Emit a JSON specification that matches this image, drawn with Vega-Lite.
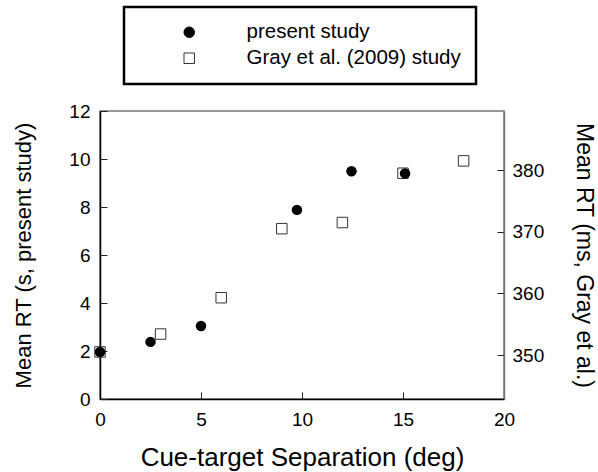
{
  "$schema": "https://vega.github.io/schema/vega-lite/v6.json",
  "width": 404,
  "height": 288,
  "autosize": {"type": "none"},
  "padding": {"left": 100, "top": 111, "right": 94, "bottom": 73},
  "background": "white",
  "config": {
    "font": "Liberation Sans",
    "view": {"stroke": "#777", "strokeWidth": 1.5},
    "axis": {
      "grid": false,
      "labelFlush": false,
      "labelFont": "Liberation Sans",
      "titleFont": "Liberation Sans",
      "labelColor": "black",
      "titleColor": "black",
      "labelFontSize": 19,
      "titleFontWeight": "normal",
      "tickSize": -7,
      "tickColor": "#222",
      "domainColor": "black",
      "domainWidth": 1.5
    },
    "legend": {
      "orient": "none",
      "strokeWidth": 2.5,
      "padding": 15,
      "symbolOffset": 40,
      "labelFontSize": 20.5,
      "labelFont": "Liberation Sans",
      "labelColor": "black",
      "labelOffset": 47,
      "labelLimit": 400,
      "rowPadding": 5,
      "symbolSize": 110,
      "symbolStrokeWidth": 1
    }
  },
  "data": {
    "values": [
      {"series": "Gray et al. (2009) study", "sep": 0, "rt": 350.5},
      {"series": "Gray et al. (2009) study", "sep": 3, "rt": 353.4},
      {"series": "Gray et al. (2009) study", "sep": 6, "rt": 359.3},
      {"series": "Gray et al. (2009) study", "sep": 9, "rt": 370.5},
      {"series": "Gray et al. (2009) study", "sep": 12, "rt": 371.5},
      {"series": "Gray et al. (2009) study", "sep": 15, "rt": 379.5},
      {"series": "Gray et al. (2009) study", "sep": 18, "rt": 381.5},
      {"series": "present study", "sep": 0, "rt": 1.96},
      {"series": "present study", "sep": 2.5, "rt": 2.38},
      {"series": "present study", "sep": 5, "rt": 3.04},
      {"series": "present study", "sep": 9.75, "rt": 7.88},
      {"series": "present study", "sep": 12.45, "rt": 9.49},
      {"series": "present study", "sep": 15.1, "rt": 9.4}
    ]
  },
  "encoding": {
    "x": {
      "field": "sep",
      "type": "quantitative",
      "scale": {"domain": [0, 20], "nice": false},
      "axis": {
        "title": "Cue-target Separation (deg)",
        "titleFontSize": 26,
        "values": [0, 5, 10, 15, 20],
        "labelPadding": 18,
        "titlePadding": 15
      }
    },
    "shape": {
      "field": "series",
      "type": "nominal",
      "scale": {"domain": ["present study", "Gray et al. (2009) study"], "range": ["circle", "square"]},
      "legend": {"title": null, "legendX": 24, "legendY": -104, "fillColor": "white", "strokeColor": "black"}
    },
    "fill": {
      "field": "series",
      "type": "nominal",
      "scale": {"domain": ["present study", "Gray et al. (2009) study"], "range": ["black", "white"]},
      "legend": {"title": null, "legendX": 24, "legendY": -104, "fillColor": "white", "strokeColor": "black"}
    },
    "stroke": {
      "field": "series",
      "type": "nominal",
      "scale": {"domain": ["present study", "Gray et al. (2009) study"], "range": ["black", "#333"]},
      "legend": {"title": null, "legendX": 24, "legendY": -104, "fillColor": "white", "strokeColor": "black"}
    }
  },
  "layer": [
    {
      "transform": [{"filter": "datum.series == 'Gray et al. (2009) study'"}],
      "mark": {"type": "point", "filled": true, "size": 110, "strokeWidth": 1, "opacity": 1},
      "encoding": {
        "y": {
          "field": "rt",
          "type": "quantitative",
          "scale": {"domain": [342.86, 389.6], "nice": false, "zero": false},
          "axis": {
            "orient": "right",
            "title": "Mean RT (ms, Gray et al.)",
            "titleFontSize": 23,
            "values": [350, 360, 370, 380],
            "labelPadding": 15,
            "titlePadding": 28,
            "domainColor": "#777"
          }
        }
      }
    },
    {
      "transform": [{"filter": "datum.series == 'present study'"}],
      "mark": {"type": "point", "filled": true, "size": 110, "strokeWidth": 0, "opacity": 1},
      "encoding": {
        "y": {
          "field": "rt",
          "type": "quantitative",
          "scale": {"domain": [0, 12], "nice": false},
          "axis": {
            "orient": "left",
            "title": "Mean RT (s, present study)",
            "titleFontSize": 22,
            "values": [0, 2, 4, 6, 8, 10, 12],
            "labelPadding": 17,
            "titlePadding": 33
          }
        }
      }
    }
  ],
  "resolve": {"scale": {"y": "independent"}}
}
